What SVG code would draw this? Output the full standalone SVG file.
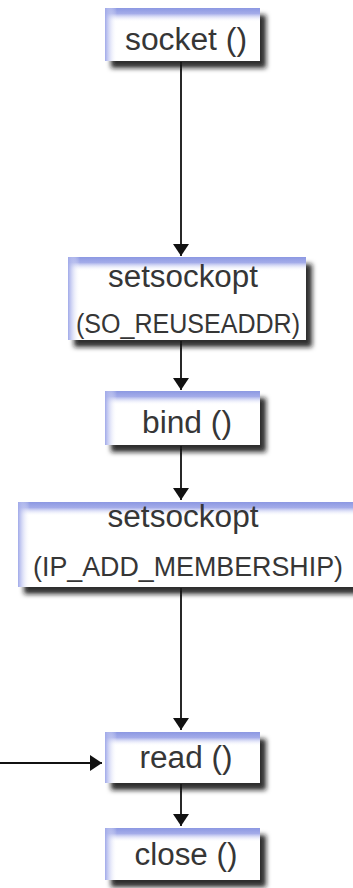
<svg xmlns="http://www.w3.org/2000/svg" width="353" height="888" viewBox="0 0 353 888">
<defs>
<linearGradient id="gTop" x1="0" y1="0" x2="0" y2="1">
<stop offset="0" stop-color="#8c98e2"/>
<stop offset="0.4" stop-color="#a4ace9"/>
<stop offset="1" stop-color="#ffffff" stop-opacity="0"/>
</linearGradient>
<linearGradient id="gLeft" x1="0" y1="0" x2="1" y2="0">
<stop offset="0" stop-color="#a0a9e9"/>
<stop offset="1" stop-color="#ffffff" stop-opacity="0"/>
</linearGradient>
<filter id="sh" x="-10%" y="-20%" width="130%" height="160%">
<feGaussianBlur in="SourceAlpha" stdDeviation="2.5"/>
<feOffset dx="6" dy="7" result="b"/>
<feFlood flood-color="#151515" flood-opacity="0.9"/>
<feComposite in2="b" operator="in" result="s"/>
<feMerge><feMergeNode in="s"/><feMergeNode in="SourceGraphic"/></feMerge>
</filter>
<marker id="ah" viewBox="0 0 12 16" refX="12" refY="8" markerWidth="12" markerHeight="16" markerUnits="userSpaceOnUse" orient="auto">
<path d="M0,0 L12,8 L0,16 Z" fill="#111"/>
</marker>
</defs>
<style>
.box{fill:#fff;}
.t{font-family:"Liberation Sans",Arial,sans-serif;fill:#363636;text-anchor:middle;}
.lc{font-size:31px;}
.uc{font-size:27px;}
.c{stroke:#111;stroke-width:1.8;fill:none;marker-end:url(#ah);}
</style>
<g id="connectors">
<line class="c" x1="181" y1="62" x2="181" y2="256"/>
<line class="c" x1="181" y1="341" x2="181" y2="390"/>
<line class="c" x1="181" y1="446" x2="181" y2="500"/>
<line class="c" x1="181" y1="588" x2="181" y2="730"/>
<line class="c" x1="181" y1="784" x2="181" y2="826"/>
<line class="c" x1="0" y1="763" x2="102" y2="763"/>
</g>
<g id="n-socket">
<rect class="box" x="105" y="8" width="155" height="53" filter="url(#sh)"/>
<rect x="105" y="8" width="155" height="14" fill="url(#gTop)"/>
<rect x="105" y="8" width="12" height="53" fill="url(#gLeft)"/>
<text class="t lc" x="186" y="50" textLength="122" lengthAdjust="spacingAndGlyphs">socket ()</text>
</g>
<g id="n-setsockopt-reuse">
<rect class="box" x="68" y="257" width="238" height="83" filter="url(#sh)"/>
<rect x="68" y="257" width="238" height="14" fill="url(#gTop)"/>
<rect x="68" y="257" width="12" height="83" fill="url(#gLeft)"/>
<text class="t lc" x="183" y="287" textLength="150" lengthAdjust="spacingAndGlyphs">setsockopt</text>
<text class="t uc" x="188" y="333" textLength="224" lengthAdjust="spacingAndGlyphs">(SO_REUSEADDR)</text>
</g>
<g id="n-bind">
<rect class="box" x="105" y="391" width="155" height="54" filter="url(#sh)"/>
<rect x="105" y="391" width="155" height="14" fill="url(#gTop)"/>
<rect x="105" y="391" width="12" height="54" fill="url(#gLeft)"/>
<text class="t lc" x="187" y="433" textLength="90" lengthAdjust="spacingAndGlyphs">bind ()</text>
</g>
<g id="n-setsockopt-ip">
<rect class="box" x="18" y="502" width="345" height="85" filter="url(#sh)"/>
<rect x="18" y="502" width="345" height="14" fill="url(#gTop)"/>
<rect x="18" y="502" width="12" height="85" fill="url(#gLeft)"/>
<text class="t lc" x="183" y="527" textLength="151" lengthAdjust="spacingAndGlyphs">setsockopt</text>
<text class="t uc" x="188" y="576" textLength="310" lengthAdjust="spacingAndGlyphs">(IP_ADD_MEMBERSHIP)</text>
</g>
<g id="n-read">
<rect class="box" x="105" y="732" width="155" height="51" filter="url(#sh)"/>
<rect x="105" y="732" width="155" height="14" fill="url(#gTop)"/>
<rect x="105" y="732" width="12" height="51" fill="url(#gLeft)"/>
<text class="t lc" x="186" y="768" textLength="93" lengthAdjust="spacingAndGlyphs">read ()</text>
</g>
<g id="n-close">
<rect class="box" x="105" y="828" width="155" height="52" filter="url(#sh)"/>
<rect x="105" y="828" width="155" height="14" fill="url(#gTop)"/>
<rect x="105" y="828" width="12" height="52" fill="url(#gLeft)"/>
<text class="t lc" x="186" y="865" textLength="103" lengthAdjust="spacingAndGlyphs">close ()</text>
</g>
</svg>
